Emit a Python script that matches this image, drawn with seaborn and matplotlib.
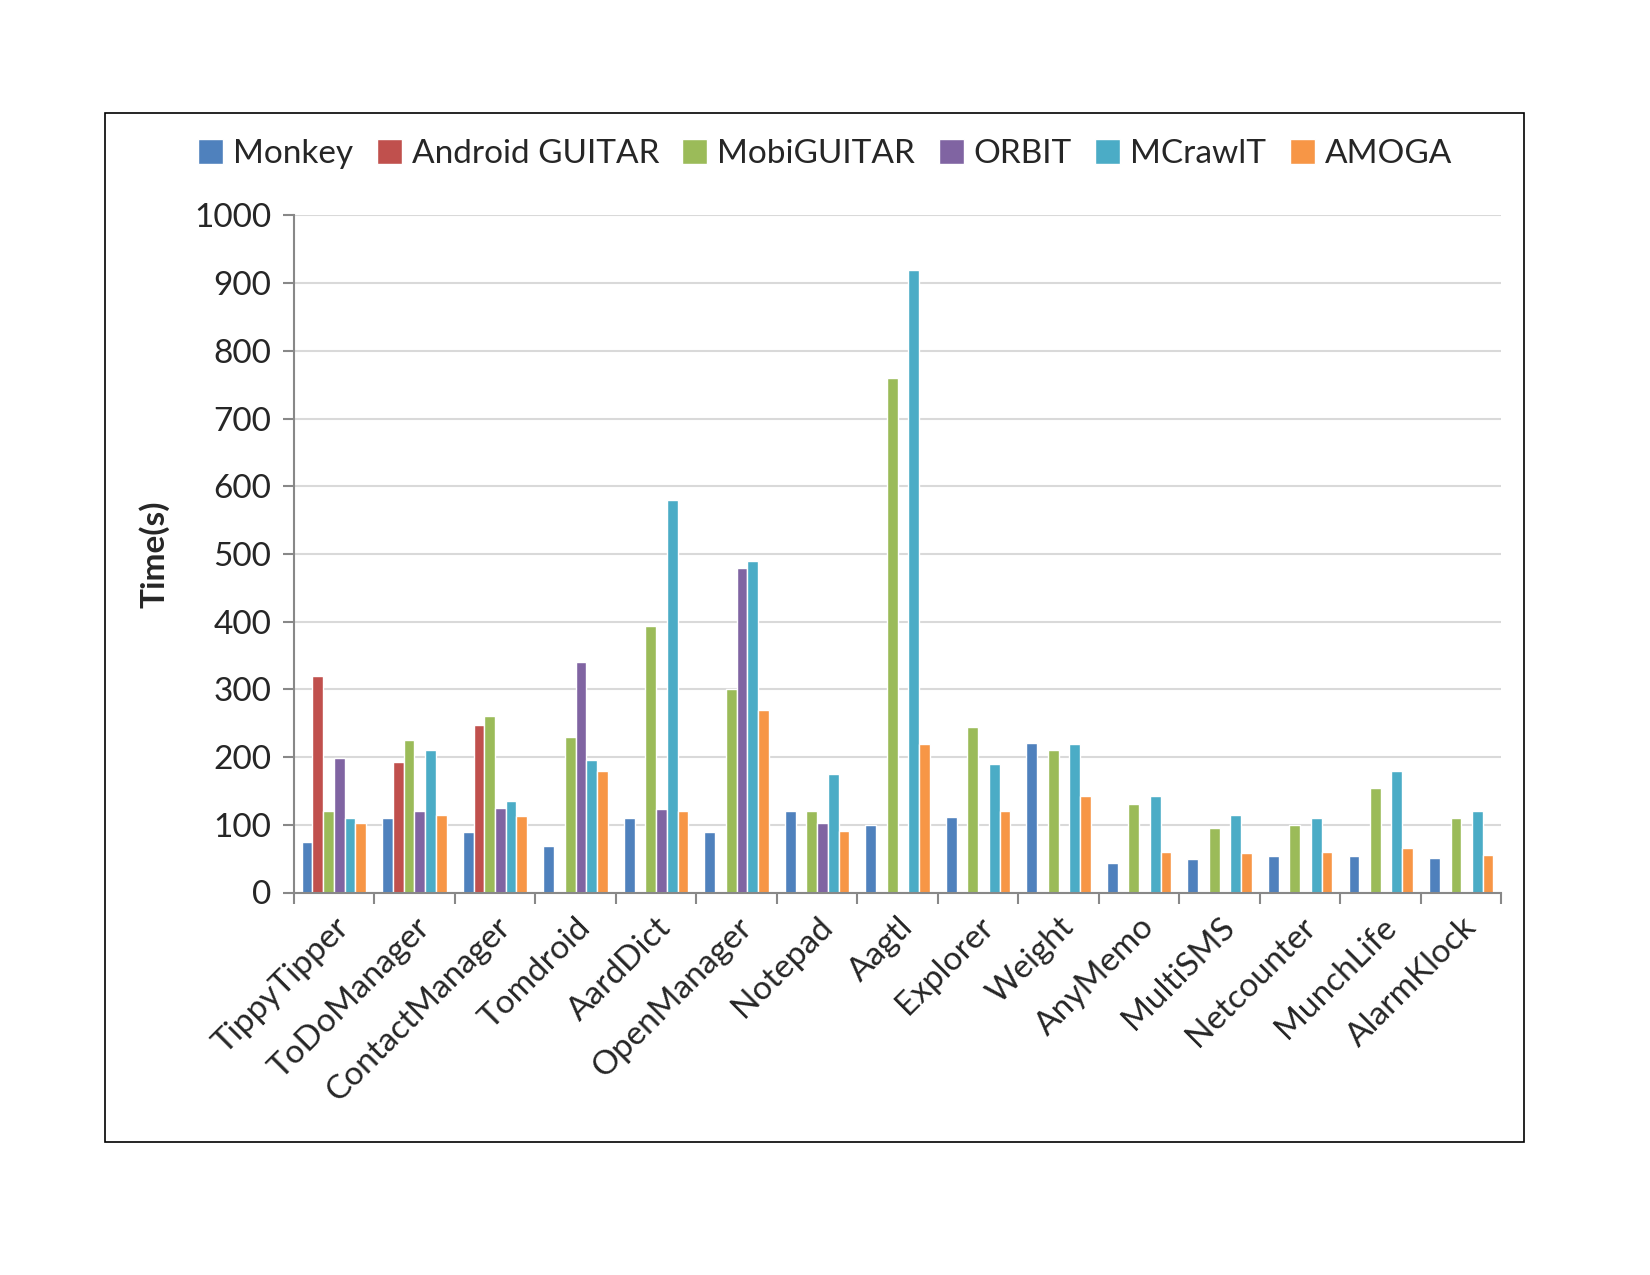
import numpy as np
import pandas as pd
import matplotlib
matplotlib.use("Agg")
import matplotlib.pyplot as plt
import seaborn as sns
from matplotlib.patches import Rectangle

apps = ["TippyTipper", "ToDoManager", "ContactManager", "Tomdroid", "AardDict",
        "OpenManager", "Notepad", "Aagtl", "Explorer", "Weight", "AnyMemo",
        "MultiSMS", "Netcounter", "MunchLife", "AlarmKlock"]
tools = ["Monkey", "Android GUITAR", "MobiGUITAR", "ORBIT", "MCrawlT", "AMOGA"]

monkey = [75, 110, 90, 68, 110, 90, 120, 100, 111, 221, 44, 50, 54, 54, 51]
android_guitar = [320, 193, 247, 0, 0, 0, 0, 0, 0, 0, 0, 0, 0, 0, 0]
mobiguitar = [120, 225, 260, 230, 393, 300, 121, 760, 245, 210, 130, 95, 100, 155, 110]
orbit = [198, 120, 125, 340, 123, 480, 102, 0, 0, 0, 0, 0, 0, 0, 0]
mcrawlt = [110, 210, 135, 196, 580, 490, 175, 920, 190, 220, 142, 115, 110, 180, 120]
amoga = [102, 115, 113, 180, 120, 270, 91, 220, 121, 143, 60, 58, 60, 65, 55]

colors = ["#4F81BD", "#C0504D", "#9BBB59", "#8064A2", "#4BACC6", "#F79646"]

series = [monkey, android_guitar, mobiguitar, orbit, mcrawlt, amoga]
rows = []
for t, vals in zip(tools, series):
    for a, v in zip(apps, vals):
        rows.append({"app": a, "tool": t, "time": v})
df = pd.DataFrame(rows)

sns.set_theme(style="white")
plt.rcParams['font.family'] = ['Lato', 'DejaVu Sans']

fig = plt.figure(figsize=(16.5, 12.75), dpi=100)
ax = fig.add_axes([0.178, 0.300, 0.732, 0.531])

sns.barplot(data=df, x="app", y="time", hue="tool", order=apps, hue_order=tools,
            palette=colors, width=0.8, edgecolor="white", linewidth=1.0,
            errorbar=None, ax=ax, saturation=1)

ax.set_ylim(0, 1000)
ax.set_yticks(np.arange(0, 1001, 100))
ax.set_xlim(-0.5, len(apps) - 0.5)
ax.yaxis.grid(True, color="#d9d9d9", linewidth=1.5)
ax.set_axisbelow(True)
for s in ["top", "right"]:
    ax.spines[s].set_visible(False)
for s in ["left", "bottom"]:
    ax.spines[s].set_color("#888888")
    ax.spines[s].set_linewidth(1.5)

ax.tick_params(axis="y", which="major", length=8, width=1.5, color="#888888",
               labelsize=24, pad=8, left=True)
ax.set_xticks(np.arange(len(apps)))
ax.set_xticklabels(apps, rotation=45, ha="right", rotation_mode="anchor", fontsize=24)
ax.tick_params(axis="x", which="major", length=0, pad=14)
ax.set_xticks(np.arange(-0.5, len(apps)), minor=True)
ax.tick_params(axis="x", which="minor", length=8, width=1.5, color="#888888", bottom=True)

ax.set_xlabel("")
ax.set_ylabel("Time(s)", fontsize=24, fontweight="bold", labelpad=18)

handles, labels = ax.get_legend_handles_labels()
ax.get_legend().remove()
fig.legend(handles, labels, loc="center", bbox_to_anchor=(0.5, 0.879), ncol=6,
           frameon=False, fontsize=24, handlelength=0.75, handleheight=0.75,
           handletextpad=0.3, columnspacing=0.7)

fig.patches.append(Rectangle((0.0636, 0.104), 0.860, 0.807, transform=fig.transFigure,
                             fill=False, edgecolor="black", linewidth=1.2, zorder=0))

fig.savefig("out.png", dpi=100)
